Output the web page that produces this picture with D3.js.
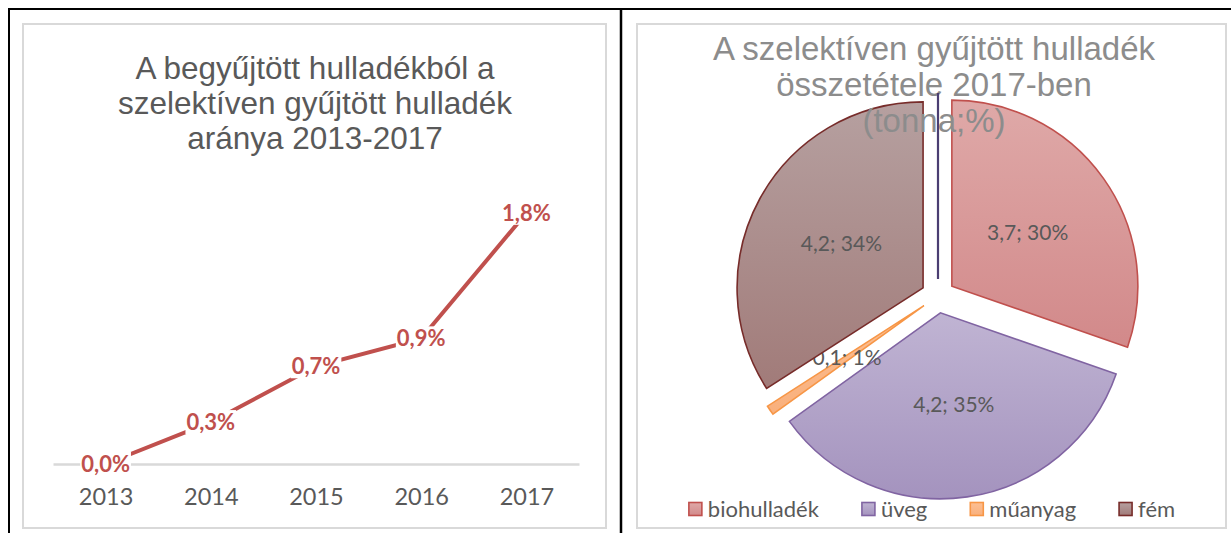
<!DOCTYPE html>
<html>
<head>
<meta charset="utf-8">
<script src="https://cdn.jsdelivr.net/npm/d3@7"></script>
<style>
  body { margin: 0; background: #fff; }
  svg { display: block; }
</style>
</head>
<body>
<svg id="c" width="1231" height="533"></svg>
<script>
// ---- data ----
const years = ["2013", "2014", "2015", "2016", "2017"];
const shareValues = [0.0, 0.3, 0.7, 0.9, 1.8];          // % of collected waste
const shareDomain = [0, 2];
const lineTitle = ["A begyűjtött hulladékból a", "szelektíven gyűjtött hulladék", "aránya 2013-2017"];

const wasteTypes = ["biohulladék", "üveg", "műanyag", "fém"];
const wasteTonnes = [3.7, 4.24, 0.1, 4.16];
const pieTitle = ["A szelektíven gyűjtött hulladék", "összetétele 2017-ben", "(tonna;%)"];

// ---- styles ----
const sliceStyles = [
  { top: "#dfa9a8", bottom: "#d2898a", stroke: "#c0504d" },
  { top: "#c0b4d3", bottom: "#a493be", stroke: "#8064a2" },
  { top: "#fcbf94", bottom: "#f9b07c", stroke: "#f79646" },
  { top: "#b6a0a0", bottom: "#a17b79", stroke: "#772c2a" }
];
const labelFont = "Lato, 'Noto Sans', sans-serif";
const titleFont = "'Liberation Sans', Arial, sans-serif";

const hu = d3.formatLocale({ decimal: ",", thousands: " ", grouping: [3], currency: ["", " Ft"] });
const fmt1 = hu.format(".1f");

const svg = d3.select("#c");
const defs = svg.append("defs");

// ---- page frame ----
svg.append("line").attr("x1", 8).attr("x2", 1231).attr("y1", 9).attr("y2", 9)
  .attr("stroke", "#000").attr("stroke-width", 2);
svg.append("line").attr("x1", 9).attr("x2", 9).attr("y1", 8).attr("y2", 533)
  .attr("stroke", "#000").attr("stroke-width", 2);
svg.append("line").attr("x1", 621).attr("x2", 621).attr("y1", 8).attr("y2", 533)
  .attr("stroke", "#000").attr("stroke-width", 2.5);

svg.append("rect").attr("x", 23).attr("y", 24).attr("width", 583).attr("height", 504)
  .attr("fill", "#fff").attr("stroke", "#d9d9d9").attr("stroke-width", 2);
svg.append("rect").attr("x", 637).attr("y", 24).attr("width", 589).attr("height", 504)
  .attr("fill", "#fff").attr("stroke", "#d9d9d9").attr("stroke-width", 2);

// ---- line chart ----
const x = d3.scalePoint().domain(years).range([53, 579]).padding(0.5);
const y = d3.scaleLinear().domain(shareDomain).range([464, 185]);

const left = svg.append("g");

left.append("text")
  .attr("x", 315).attr("y", 79)
  .attr("text-anchor", "middle")
  .attr("font-family", titleFont).attr("font-size", 31.5)
  .attr("fill", "#595959")
  .selectAll("tspan").data(lineTitle).join("tspan")
  .attr("x", 315).attr("dy", (d, i) => i === 0 ? 0 : 35)
  .text(d => d);

const xAxis = left.append("g")
  .attr("transform", `translate(0,${y(0)})`)
  .call(d3.axisBottom(x).tickSize(0).tickSizeOuter(0).tickPadding(24.5));
xAxis.select(".domain").attr("stroke", "#d9d9d9").attr("stroke-width", 2.5);
xAxis.selectAll("text")
  .attr("font-family", labelFont).attr("font-size", 23.5).attr("fill", "#595959");

const pts = years.map((yr, i) => ({ year: yr, v: shareValues[i] }));

left.append("path")
  .datum(pts)
  .attr("fill", "none")
  .attr("stroke", "#c0504d")
  .attr("stroke-width", 4)
  .attr("d", d3.line().x(d => x(d.year)).y(d => y(d.v)));

const lbl = left.selectAll("g.lbl").data(pts).join("g").attr("class", "lbl")
  .attr("transform", d => `translate(${x(d.year)},${y(d.v)})`);
lbl.append("text")
  .attr("text-anchor", "middle")
  .attr("dy", "0.36em")
  .attr("font-family", labelFont).attr("font-size", 22).attr("font-weight", 700)
  .attr("fill", "#c0504d")
  .text(d => fmt1(d.v) + "%");
lbl.each(function () {
  const g = d3.select(this);
  const b = g.select("text").node().getBBox();
  g.insert("rect", "text")
    .attr("x", b.x - 1).attr("y", b.y + 2)
    .attr("width", b.width + 2).attr("height", b.height - 3)
    .attr("fill", "#fff");
});

// ---- pie chart ----
const cx = 938, cy = 296, R = 186, explode = 17;
const right = svg.append("g");

sliceStyles.forEach((s, i) => {
  const g = defs.append("linearGradient").attr("id", "sg" + i)
    .attr("x1", 0).attr("y1", 0).attr("x2", 0).attr("y2", 1);
  g.append("stop").attr("offset", "0%").attr("stop-color", s.top);
  g.append("stop").attr("offset", "100%").attr("stop-color", s.bottom);
});

const total = d3.sum(wasteTonnes);
const arcs = d3.pie().sort(null).value(d => d)(wasteTonnes);
const arc = d3.arc().innerRadius(0).outerRadius(R);

const slices = right.selectAll("g.slice").data(arcs).join("g").attr("class", "slice")
  .attr("transform", d => {
    const m = (d.startAngle + d.endAngle) / 2;
    return `translate(${cx + Math.sin(m) * explode},${cy - Math.cos(m) * explode})`;
  });
slices.append("path")
  .attr("d", arc)
  .attr("fill", (d, i) => `url(#sg${i})`)
  .attr("stroke", (d, i) => sliceStyles[i].stroke)
  .attr("stroke-width", 1.6)
  .attr("stroke-linejoin", "miter");

slices.append("text")
  .attr("transform", d => {
    const m = (d.startAngle + d.endAngle) / 2;
    return `translate(${Math.sin(m) * R * 0.5},${-Math.cos(m) * R * 0.5})`;
  })
  .attr("text-anchor", "middle").attr("dy", "0.36em")
  .attr("font-family", labelFont).attr("font-size", 21)
  .attr("fill", "#595959")
  .text(d => `${fmt1(d.data)}; ${Math.round(d.data / total * 100)}%`);

right.append("text")
  .attr("x", 934).attr("y", 60)
  .attr("text-anchor", "middle")
  .attr("font-family", titleFont).attr("font-size", 33)
  .attr("fill", "#8c8c8c")
  .selectAll("tspan").data(pieTitle).join("tspan")
  .attr("x", 934).attr("dy", (d, i) => i === 0 ? 0 : 36)
  .text(d => d);

// empty slice at the zero angle shows as a single radial stroke
const zeroArc = { startAngle: 0, endAngle: 0 };
right.append("path")
  .attr("transform", `translate(${cx},${cy - explode})`)
  .attr("d", d3.arc().innerRadius(0).outerRadius(R)(zeroArc))
  .attr("fill", "none")
  .attr("stroke", "#4b3e72")
  .attr("stroke-width", 2.2);

// legend
const legend = right.append("g").attr("transform", "translate(0,509)");
const items = legend.selectAll("g").data(wasteTypes).join("g");
items.append("text")
  .attr("x", 19).attr("dy", "0.36em")
  .attr("font-family", labelFont).attr("font-size", 22)
  .attr("fill", "#595959")
  .text(d => d);
items.append("rect")
  .attr("x", 0).attr("y", -6.5).attr("width", 13).attr("height", 13)
  .attr("fill", (d, i) => `url(#sg${i})`)
  .attr("stroke", (d, i) => sliceStyles[i].stroke)
  .attr("stroke-width", 1.6);
const widths = [];
items.each(function () { widths.push(19 + d3.select(this).select("text").node().getComputedTextLength()); });
const gap = 43;
const totalW = d3.sum(widths) + gap * (widths.length - 1);
let pos = 932 - totalW / 2;
items.attr("transform", (d, i) => {
  const t = `translate(${pos},0)`;
  pos += widths[i] + gap;
  return t;
});
</script>
</body>
</html>
